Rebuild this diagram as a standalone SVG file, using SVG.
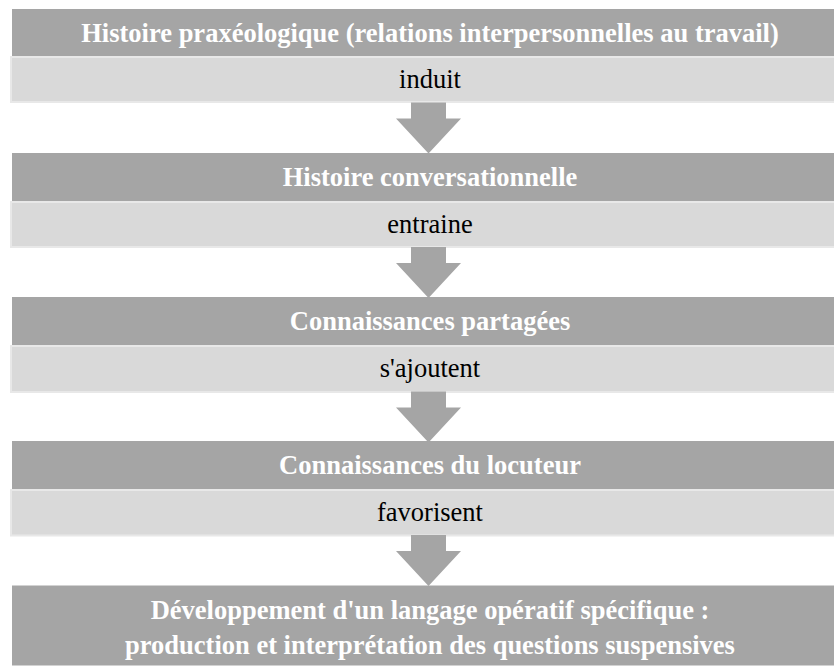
<svg xmlns="http://www.w3.org/2000/svg" width="834" height="672" viewBox="0 0 834 672">
  <style>
    .node { fill: #a5a5a5; }
    .band { fill: #d9d9d9; stroke: #e8e8e8; stroke-width: 2; }
    .arrow { fill: #a5a5a5; }
    .t { font-family: "Liberation Serif", "Times New Roman", serif; font-size: 26.5px; text-anchor: middle; }
    .tn { fill: #ffffff; font-weight: bold; }
    .tb { fill: #000000; }
  </style>
  <defs>
    <path id="arr" d="M -17.5 0 H 17.5 V 16 H 32.5 L 0 51 L -32.5 16 H -17.5 Z"/>
  </defs>
  <rect width="834" height="672" fill="#ffffff"/>

  <g id="node1">
    <rect class="node" x="12" y="9" width="836" height="48"/>
    <text class="t tn" x="430" y="41.5">Histoire praxéologique (relations interpersonnelles au travail)</text>
  </g>
  <g id="node2">
    <rect class="node" x="12" y="153" width="836" height="49"/>
    <text class="t tn" x="430" y="186">Histoire conversationnelle</text>
  </g>
  <g id="node3">
    <rect class="node" x="12" y="297" width="836" height="49"/>
    <text class="t tn" x="430" y="330">Connaissances partagées</text>
  </g>
  <g id="node4">
    <rect class="node" x="12" y="441" width="836" height="49"/>
    <text class="t tn" x="430" y="474">Connaissances du locuteur</text>
  </g>
  <g id="node5">
    <rect class="node" x="12" y="585.5" width="836" height="80"/>
    <text class="t tn" x="430" y="619">Développement d'un langage opératif spécifique :</text>
    <text class="t tn" x="430" y="653.5">production et interprétation des questions suspensives</text>
  </g>

  <g id="connectors">
    <g id="edge1">
      <rect class="band" x="11" y="57" width="840" height="45"/>
      <text class="t tb" x="430" y="88">induit</text>
      <use href="#arr" class="arrow" x="428.5" y="102.5"/>
    </g>
    <g id="edge2">
      <rect class="band" x="11" y="202" width="840" height="45"/>
      <text class="t tb" x="430" y="233">entraine</text>
      <use href="#arr" class="arrow" x="428.5" y="247"/>
    </g>
    <g id="edge3">
      <rect class="band" x="11" y="346" width="840" height="46"/>
      <text class="t tb" x="430" y="377">s'ajoutent</text>
      <use href="#arr" class="arrow" x="428.5" y="391.5"/>
    </g>
    <g id="edge4">
      <rect class="band" x="11" y="490" width="840" height="45.5"/>
      <text class="t tb" x="430" y="521">favorisent</text>
      <use href="#arr" class="arrow" x="428.5" y="535"/>
    </g>
  </g>
</svg>
